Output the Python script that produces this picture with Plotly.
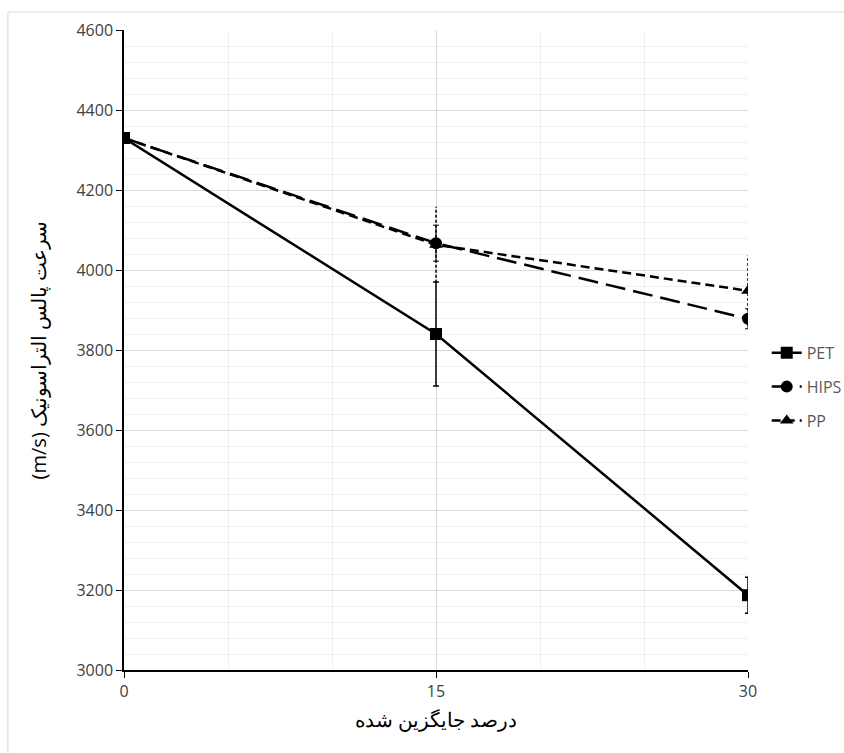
import plotly.graph_objects as go

x_vals = [0, 15, 30]
pet = [4330, 3840, 3187]
pet_err = [0, 130, 45]
hips = [4330, 4067, 3878]
hips_err = [0, 45, 25]
pp = [4330, 4063, 3948]
pp_err = [0, 95, 88]

fig = go.Figure()

# dashed error bars for PP drawn as segments built from data
for xi, yi, ei in zip(x_vals, pp, pp_err):
    if ei > 0:
        fig.add_trace(go.Scatter(x=[xi, xi], y=[yi - ei, yi + ei], mode="lines",
                                 line=dict(color="black", width=1.5, dash="3px,2px"),
                                 showlegend=False, hoverinfo="skip", legendgroup="pp"))

fig.add_trace(go.Scatter(x=x_vals, y=pet, name="PET", mode="lines+markers", legendgroup="pet",
                         line=dict(color="black", width=2.5),
                         marker=dict(symbol="square", size=12, color="black"),
                         error_y=dict(type="data", array=pet_err, color="black", thickness=1.5, width=3)))
fig.add_trace(go.Scatter(x=x_vals, y=hips, name="HIPS", mode="lines+markers", legendgroup="hips",
                         line=dict(color="black", width=2.5, dash="20px,8px"),
                         marker=dict(symbol="circle", size=12, color="black"),
                         error_y=dict(type="data", array=hips_err, color="black", thickness=1, width=3)))
fig.add_trace(go.Scatter(x=x_vals, y=pp, name="PP", mode="lines+markers", legendgroup="pp",
                         line=dict(color="black", width=2.5, dash="9px,5px"),
                         marker=dict(symbol="triangle-up", size=12, color="black")))

fig.update_layout(
    width=844, height=753,
    margin=dict(l=124, r=96, t=30, b=83, autoexpand=False),
    paper_bgcolor="white", plot_bgcolor="white",
    font=dict(family="Open Sans, Noto Sans, sans-serif", size=16, color="#595959"),
    legend=dict(x=1.03, y=0.522, xanchor="left", yanchor="top", traceorder="grouped",
                font=dict(size=16, color="#595959"), tracegroupgap=10,
                bgcolor="rgba(0,0,0,0)", itemwidth=30),
    shapes=[dict(type="rect", xref="paper", yref="paper", x0=-0.186, x1=1.2,
                 y0=-0.2, y1=1.028, line=dict(color="#d9d9d9", width=1), layer="below")],
)

fig.update_xaxes(range=[0, 30], tickvals=[0, 15, 30], showline=True, linecolor="black",
                 linewidth=1.5, ticks="outside", tickcolor="black", ticklen=6,
                 showgrid=True, gridcolor="#d9d9d9", gridwidth=1, zeroline=False,
                 minor=dict(dtick=5, showgrid=True, gridcolor="#efefef", gridwidth=1),
                 tickfont=dict(size=16, color="#404040"),
                 title=dict(text="درصد جایگزین شده", font=dict(size=20, color="black"), standoff=12))
fig.update_yaxes(range=[3000, 4600], dtick=200, showline=True, linecolor="black",
                 linewidth=1.5, ticks="outside", tickcolor="black", ticklen=6,
                 showgrid=True, gridcolor="#d9d9d9", gridwidth=1, zeroline=False,
                 minor=dict(dtick=40, showgrid=True, gridcolor="#efefef", gridwidth=1),
                 tickfont=dict(size=16, color="#404040"),
                 title=dict(text="(m/s) سرعت پالس التراسونیک", font=dict(size=20, color="black"), standoff=24))

fig.write_html("out.html")
